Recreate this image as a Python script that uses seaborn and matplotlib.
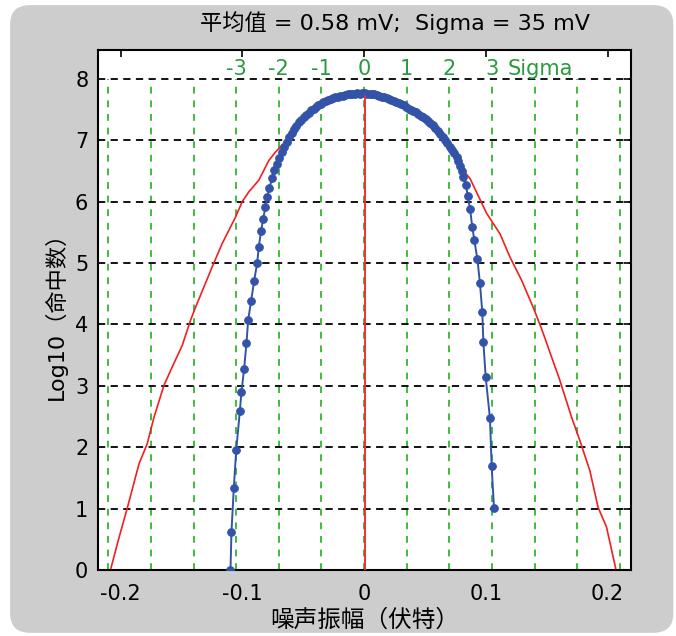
import numpy as np
import pandas as pd
import matplotlib
matplotlib.use("Agg")
import matplotlib.pyplot as plt
from matplotlib.patches import FancyBboxPatch
import seaborn as sns

# fitted gaussian (red)
red_x = [-0.2080, -0.2012, -0.1943, -0.1848, -0.1780, -0.1725, -0.1643, -0.1575, -0.1493,
         -0.1425, -0.1384, -0.1247, -0.1165, -0.1056, -0.1001, -0.0947, -0.0865, -0.0783,
         -0.0728, -0.0660, -0.0564, -0.0455, -0.0318, -0.0154, -0.0017, 0.0133, 0.0324,
         0.0516, 0.0680, 0.0789, 0.0870, 0.1007, 0.1116, 0.1198, 0.1294, 0.1389, 0.1458,
         0.1540, 0.1608, 0.1704, 0.1772, 0.1854, 0.1922, 0.1991, 0.2067]
red_y = [0.02, 0.53, 1.02, 1.73, 2.06, 2.49, 3.01, 3.31, 3.66,
         4.07, 4.28, 4.94, 5.32, 5.75, 6.00, 6.16, 6.35, 6.67,
         6.81, 6.95, 7.16, 7.41, 7.60, 7.71, 7.73, 7.73, 7.57,
         7.27, 6.95, 6.57, 6.38, 5.81, 5.48, 5.10, 4.72, 4.28, 3.93,
         3.47, 3.09, 2.49, 2.11, 1.62, 1.02, 0.70, 0.02]

# measured histogram (blue)
blue_x = [-0.1097, -0.1089, -0.1070, -0.1050, -0.1020, -0.1007, -0.0985, -0.0966, -0.0952,
          -0.0927, -0.0903, -0.0878, -0.0865, -0.0845, -0.0829, -0.0810, -0.0796, -0.0777,
          -0.0755, -0.0736, -0.0714, -0.0695, -0.0673, -0.0655, -0.0635, -0.0615, -0.0595,
          -0.0575, -0.0555, -0.0535, -0.0515, -0.0495, -0.0475, -0.0455, -0.0435, -0.0415,
          -0.0395, -0.0375, -0.0355, -0.0335, -0.0315, -0.0295, -0.0275, -0.0255, -0.0235,
          -0.0215, -0.0195, -0.0175, -0.0155, -0.0135, -0.0115, -0.0095, -0.0075, -0.0055,
          -0.0035, -0.0015, 0.0005, 0.0025, 0.0045, 0.0065, 0.0085, 0.0105, 0.0125, 0.0145,
          0.0165, 0.0185, 0.0205, 0.0225, 0.0245, 0.0265, 0.0285, 0.0305, 0.0325, 0.0345,
          0.0365, 0.0385, 0.0405, 0.0425, 0.0445, 0.0465, 0.0485, 0.0505, 0.0525, 0.0545,
          0.0565, 0.0585, 0.0605, 0.0625, 0.0645, 0.0665, 0.0685, 0.0705, 0.0720, 0.0740,
          0.0761, 0.0775, 0.0789, 0.0803, 0.0816, 0.0838, 0.0851, 0.0870, 0.0889, 0.0906,
          0.0931, 0.0952, 0.0971, 0.0980, 0.0999, 0.1034, 0.1048, 0.1067]
blue_y = [0.00, 0.62, 1.33, 1.95, 2.59, 2.90, 3.28, 3.69, 4.07,
          4.39, 4.71, 5.00, 5.26, 5.53, 5.72, 5.91, 6.07, 6.23,
          6.38, 6.51, 6.62, 6.72, 6.81, 6.90, 6.98, 7.05, 7.12,
          7.19, 7.24, 7.30, 7.34, 7.38, 7.42, 7.45, 7.49, 7.52,
          7.55, 7.57, 7.60, 7.62, 7.64, 7.66, 7.67, 7.69, 7.70,
          7.71, 7.72, 7.73, 7.74, 7.75, 7.75, 7.76, 7.76, 7.77,
          7.76, 7.77, 7.77, 7.76, 7.76, 7.75, 7.75, 7.74, 7.73, 7.71,
          7.70, 7.69, 7.67, 7.66, 7.64, 7.62, 7.61, 7.59, 7.57, 7.55,
          7.52, 7.50, 7.48, 7.46, 7.43, 7.40, 7.38, 7.35, 7.32, 7.29,
          7.25, 7.20, 7.15, 7.10, 7.05, 7.00, 6.95, 6.90, 6.85, 6.79,
          6.73, 6.66, 6.59, 6.50, 6.40, 6.27, 6.10, 5.89, 5.59, 5.37,
          5.06, 4.67, 4.20, 3.71, 3.14, 2.47, 1.69, 1.01]

mean_v = 0.00058
peak_y = 7.73
sigma = 0.035
sigma_grid = [-6, -5, -4, -3, -2, -1, 0, 1, 2, 3, 4, 5, 6]
sigma_labels = [-3, -2, -1, 0, 1, 2, 3]
x_ticks = [-0.2, -0.1, 0, 0.1, 0.2]
x_ticklabels = ["-0.2", "-0.1", "0", "0.1", "0.2"]
y_ticks = [0, 1, 2, 3, 4, 5, 6, 7, 8]

sns.set_style("white")
plt.rcParams['font.family'] = ['DejaVu Sans', 'Noto Sans CJK SC']
plt.rcParams['font.size'] = 15
plt.rcParams['text.color'] = 'black'
plt.rcParams['axes.labelcolor'] = 'black'

fig = plt.figure(figsize=(6.76, 6.36), dpi=100)
fig.patch.set_facecolor("white")
# grey rounded panel behind everything
panel = FancyBboxPatch((0.015, 0.005), 0.981, 0.987, boxstyle="round,pad=0,rounding_size=0.03",
                       transform=fig.transFigure, facecolor="#cdcdcd", edgecolor="none", zorder=-10)
fig.patches.append(panel)

ax = fig.add_axes([0.145, 0.104, 0.788, 0.817])
ax.set_facecolor("white")

# sigma grid (green) and level grid (black)
for k in sigma_grid:
    ax.plot([k * sigma, k * sigma], [0, 8], color="#40bc40", ls=(0, (3.5, 3.5)), lw=1.4, zorder=1)
for yv in y_ticks[1:]:
    ax.axhline(yv, color="black", ls=(0, (4, 3)), lw=1.3, zorder=1)

df_red = pd.DataFrame({"x": red_x, "y": red_y})
df_blue = pd.DataFrame({"x": blue_x, "y": blue_y})

sns.lineplot(data=df_red, x="x", y="y", ax=ax, color="#f02020", lw=1.2,
             estimator=None, sort=False, zorder=3)
sns.lineplot(data=df_blue, x="x", y="y", ax=ax, color="#3353a8", lw=1.4,
             marker="o", markersize=5.5, markeredgecolor="#3353a8",
             estimator=None, sort=False, zorder=4)
ax.plot([mean_v, mean_v], [0, peak_y], color="#f03030", lw=1.4, zorder=5)

for k in sigma_labels:
    ax.text(k * sigma, 8.17, str(k), color="#2a9a3e", ha="center", va="center", fontsize=15)
ax.text(3 * sigma + 0.013, 8.17, "Sigma", color="#2a9a3e", ha="left", va="center", fontsize=15)

ax.set_xlim(-0.2185, 0.219)
ax.set_ylim(0, 8.47)
ax.set_xticks(x_ticks)
ax.set_xticklabels(x_ticklabels)
ax.set_yticks(y_ticks)
ax.tick_params(direction="in", length=5, width=1.2, top=True, right=True, colors="black",
               labelsize=15)
ax.tick_params(axis="x", pad=10)
ax.tick_params(axis="y", pad=7)
for s in ax.spines.values():
    s.set_color("black")
    s.set_linewidth(1.5)

ax.set_xlabel("噪声振幅（伏特）", fontsize=17)
ax.set_ylabel("Log10（命中数）", fontsize=16)
ax.xaxis.set_label_coords(0.5, -0.096)
ax.xaxis.label.set_va("center")
ax.yaxis.set_label_coords(-0.081, 0.5)
ax.yaxis.label.set_va("center")

fig.text(0.584, 0.965, "平均值 = 0.58 mV;  Sigma = 35 mV", ha="center", va="center", fontsize=16)

fig.savefig("out.png", dpi=100, facecolor=fig.get_facecolor())
